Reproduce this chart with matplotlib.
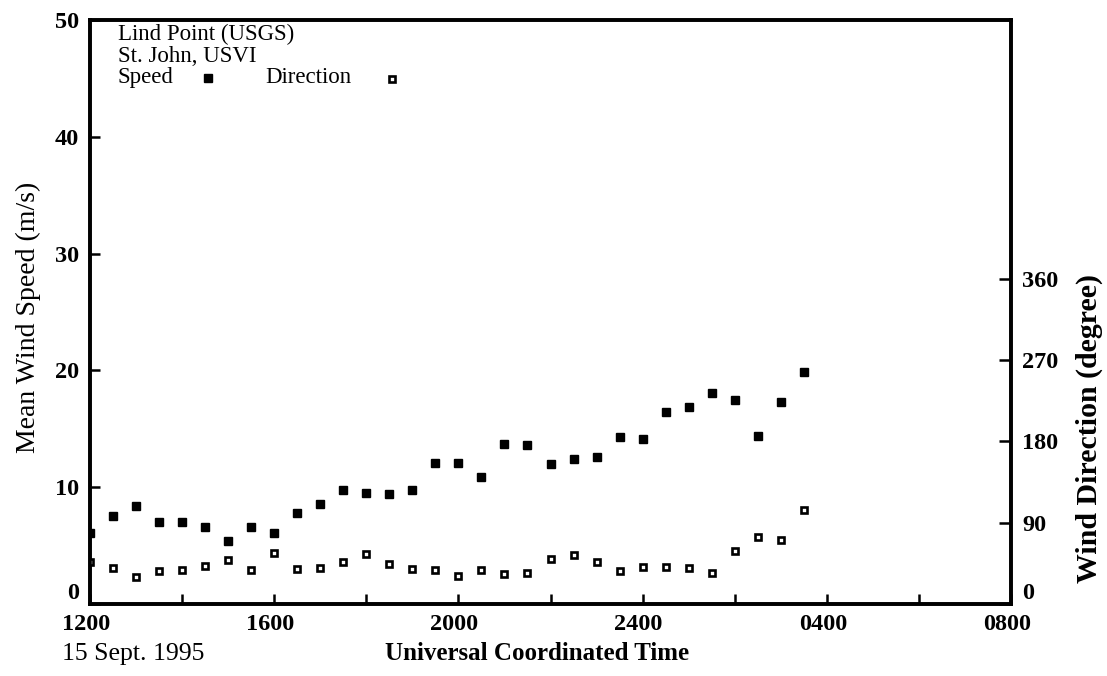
import matplotlib
matplotlib.use("Agg")
import matplotlib.pyplot as plt
import matplotlib.transforms as mtransforms
import numpy as np

plt.rcParams['font.family'] = ['Liberation Serif', 'DejaVu Serif']

# hours after 1200 UTC, 15 Sept. 1995, every half hour
hours = [0.0, 0.5, 1.0, 1.5, 2.0, 2.5, 3.0, 3.5, 4.0, 4.5, 5.0, 5.5, 6.0, 6.5, 7.0, 7.5,
         8.0, 8.5, 9.0, 9.5, 10.0, 10.5, 11.0, 11.5, 12.0, 12.5, 13.0, 13.5, 14.0, 14.5,
         15.0, 15.5]

# mean wind speed (m/s)
speed = [6.1, 7.5, 8.4, 7.0, 7.0, 6.6, 5.4, 6.6, 6.1, 7.8, 8.6, 9.8, 9.5, 9.4, 9.8, 12.1,
         12.1, 10.9, 13.7, 13.6, 12.0, 12.4, 12.6, 14.3, 14.1, 16.4, 16.9, 18.1, 17.5, 14.4,
         17.3, 19.9]

# wind direction (degree)
direction = [46, 40, 30, 36, 38, 42, 49, 38, 56, 39, 40, 46, 55, 44, 39, 38,
             31, 38, 33, 34, 50, 54, 47, 36, 41, 41, 40, 34, 59, 74, 71, 104]

xtick_pos = [0, 4, 8, 12, 16, 20]
xtick_labels = ["1200", "1600", "2000", "2400", "0400", "0800"]
speed_ticks = [0, 10, 20, 30, 40, 50]
dir_ticks = [0, 90, 180, 270, 360]

fig = plt.figure(figsize=(11.07, 6.76), dpi=100)
ax = fig.add_axes([0.0813, 0.1065, 0.832, 0.8639])
ax2 = ax.twinx()

# speed: filled squares
ax.plot(hours, speed, linestyle="none", marker="s", markersize=5.4,
        color="black")
ax.set_xlim(0, 20)
ax.set_ylim(0, 50)

# direction: hollow squares on right axis
ax2.plot(hours, direction, linestyle="none", marker="s", markersize=4.2,
         markerfacecolor="white", markeredgecolor="black", markeredgewidth=1.9)
ax2.set_ylim(0, 646)

# ticks
ax.set_xticks(xtick_pos)
ax.set_xticks(np.arange(2, 20, 4), minor=True)
ax.set_xticklabels(xtick_labels, fontsize=17.5, fontweight="bold")
ax.set_yticks(speed_ticks)
ax.set_yticklabels([str(v) for v in speed_ticks], fontsize=17.5, fontweight="bold")
ax.tick_params(axis="both", which="both", direction="in", length=7.5, width=1.8)
ax.tick_params(axis="x", pad=7)
ax.tick_params(axis="y", pad=8)

# x tick labels sit a little left of their ticks
shift = mtransforms.ScaledTranslation(-4 / 100, 0, fig.dpi_scale_trans)
for lab in ax.get_xticklabels():
    lab.set_transform(lab.get_transform() + shift)

ax2.set_yticks(dir_ticks)
ax2.set_yticklabels([str(v) for v in dir_ticks], fontsize=17.5, fontweight="bold")
ax2.tick_params(axis="y", direction="in", length=8.5, width=1.8, pad=8)

# the two zero labels sit just above the x axis
ax.get_yticklabels()[0].set_verticalalignment("bottom")
ax2.get_yticklabels()[0].set_verticalalignment("bottom")

for a in (ax, ax2):
    for s in a.spines.values():
        s.set_linewidth(2.6)

# labels
ax.set_ylabel("Mean Wind Speed (m/s)", fontsize=20)
ax.yaxis.set_label_coords(-0.053, 0.49)
ax2.set_ylabel("Wind Direction (degree)", fontsize=21.5, fontweight="bold")
ax2.yaxis.set_label_coords(1.07, 0.30)

fig.text(0.056, 0.024, "15 Sept. 1995", fontsize=18.5)
fig.text(0.348, 0.024, "Universal Coordinated Time", fontsize=18, fontweight="bold")

# legend block in upper left
ax.text(0.0304, 0.9658, "Lind Point (USGS)", transform=ax.transAxes, fontsize=16.5,
        va="baseline")
ax.text(0.0304, 0.928, "St. John, USVI", transform=ax.transAxes, fontsize=16.5,
        va="baseline")
ax.text(0.0304, 0.892, "Speed", transform=ax.transAxes, fontsize=16.5, va="baseline")
ax.text(0.19, 0.892, "Direction", transform=ax.transAxes, fontsize=16.5, va="baseline")
ax.plot([0.128], [0.9007], transform=ax.transAxes, marker="s", markersize=5.4,
        color="black", clip_on=False)
ax2.plot([0.328], [0.899], transform=ax.transAxes, marker="s", markersize=4.2,
         markerfacecolor="white", markeredgecolor="black", markeredgewidth=1.9,
         clip_on=False)

fig.savefig("out.png", dpi=100)
